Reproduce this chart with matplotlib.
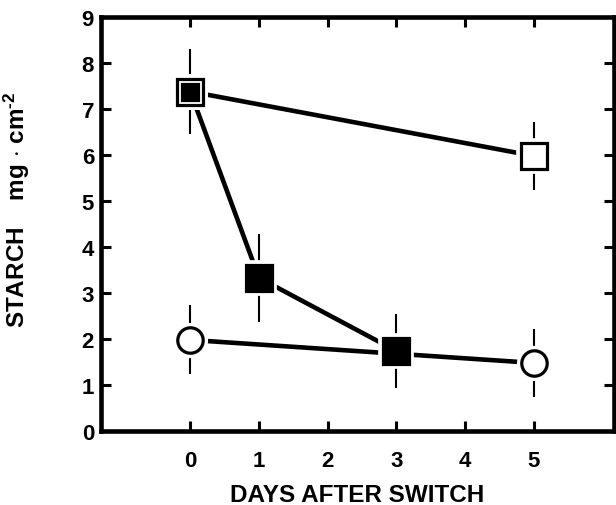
import matplotlib
matplotlib.use("Agg")
import matplotlib.pyplot as plt

plt.rcParams['font.family'] = ['Liberation Sans', 'DejaVu Sans']
plt.rcParams['font.weight'] = 'bold'
plt.rcParams['mathtext.fontset'] = 'custom'
plt.rcParams['mathtext.rm'] = 'Liberation Sans:bold'
plt.rcParams['mathtext.bf'] = 'Liberation Sans:bold'
plt.rcParams['mathtext.default'] = 'bf'

# Data
days_open_sq = [0, 5]
starch_open_sq = [7.38, 5.98]
err_open_sq = [0.93, 0.73]

days_filled_sq = [0, 1, 3]
starch_filled_sq = [7.38, 3.33, 1.74]
err_filled_sq = [0.0, 0.95, 0.8]

days_circle = [0, 5]
starch_circle = [1.98, 1.48]
err_circle = [0.75, 0.73]

x_ticks = [0, 1, 2, 3, 4, 5]
y_ticks = [0, 1, 2, 3, 4, 5, 6, 7, 8, 9]

fig = plt.figure(figsize=(6.16, 5.06), dpi=100)
ax = fig.add_axes([101/616, 74/506, (614-101)/616, (432-18)/506])

LW = 3.3
ELW = 1.5
MS = 18.3
MEW = 2.3
HALO_MEW = 7.0

# connecting lines
ax.plot(days_open_sq, starch_open_sq, color='black', lw=LW, zorder=2, solid_capstyle='butt')
ax.plot(days_filled_sq, starch_filled_sq, color='black', lw=LW, zorder=2, solid_capstyle='butt')
ax.plot(days_circle, starch_circle, color='black', lw=LW, zorder=2, solid_capstyle='butt')

# error bars
for xs, ys, es in [(days_open_sq, starch_open_sq, err_open_sq),
                   (days_filled_sq, starch_filled_sq, err_filled_sq),
                   (days_circle, starch_circle, err_circle)]:
    ax.errorbar(xs, ys, yerr=es, fmt='none', ecolor='black', elinewidth=ELW, capsize=0, zorder=2)

# white halos behind markers
for xs, ys, m in [(days_open_sq, starch_open_sq, 's'),
                  (days_filled_sq, starch_filled_sq, 's'),
                  (days_circle, starch_circle, 'o')]:
    ax.plot(xs, ys, ls='none', marker=m, ms=MS, mfc='white', mec='white', mew=HALO_MEW, zorder=3)

# markers
ax.plot(days_open_sq, starch_open_sq, ls='none', marker='s', ms=MS, mfc='white', mec='black', mew=MEW, zorder=4)
ax.plot(days_circle, starch_circle, ls='none', marker='o', ms=MS, mfc='white', mec='black', mew=MEW, zorder=4)
ax.plot(days_filled_sq[1:], starch_filled_sq[1:], ls='none', marker='s', ms=MS, mfc='black', mec='black', mew=MEW, zorder=4)
ax.plot(days_filled_sq[:1], starch_filled_sq[:1], ls='none', marker='s', ms=MS * 0.64, mfc='black', mec='black', mew=MEW, zorder=5)

ax.set_xlim(-1.3, 6.17)
ax.set_ylim(0, 9)
ax.set_xticks(x_ticks)
ax.set_yticks(y_ticks)
ax.set_xticklabels([str(t) for t in x_ticks])
ax.set_yticklabels([str(t) for t in y_ticks])

for s in ax.spines.values():
    s.set_linewidth(3.3)
ax.tick_params(axis='both', direction='in', length=7, width=2.2, labelsize=16,
               top=True, right=True)
ax.tick_params(axis='x', pad=14)
ax.tick_params(axis='y', pad=5)

ax.set_xlabel('DAYS AFTER SWITCH', fontsize=17.5, fontweight='bold', labelpad=8)
ax.set_ylabel(r'STARCH    mg $\cdot$ cm$^{\text{-2}}$', fontsize=17.5, fontweight='bold')
ax.yaxis.set_label_coords(-0.134, 0.537)

fig.savefig('out.png', dpi=100)
